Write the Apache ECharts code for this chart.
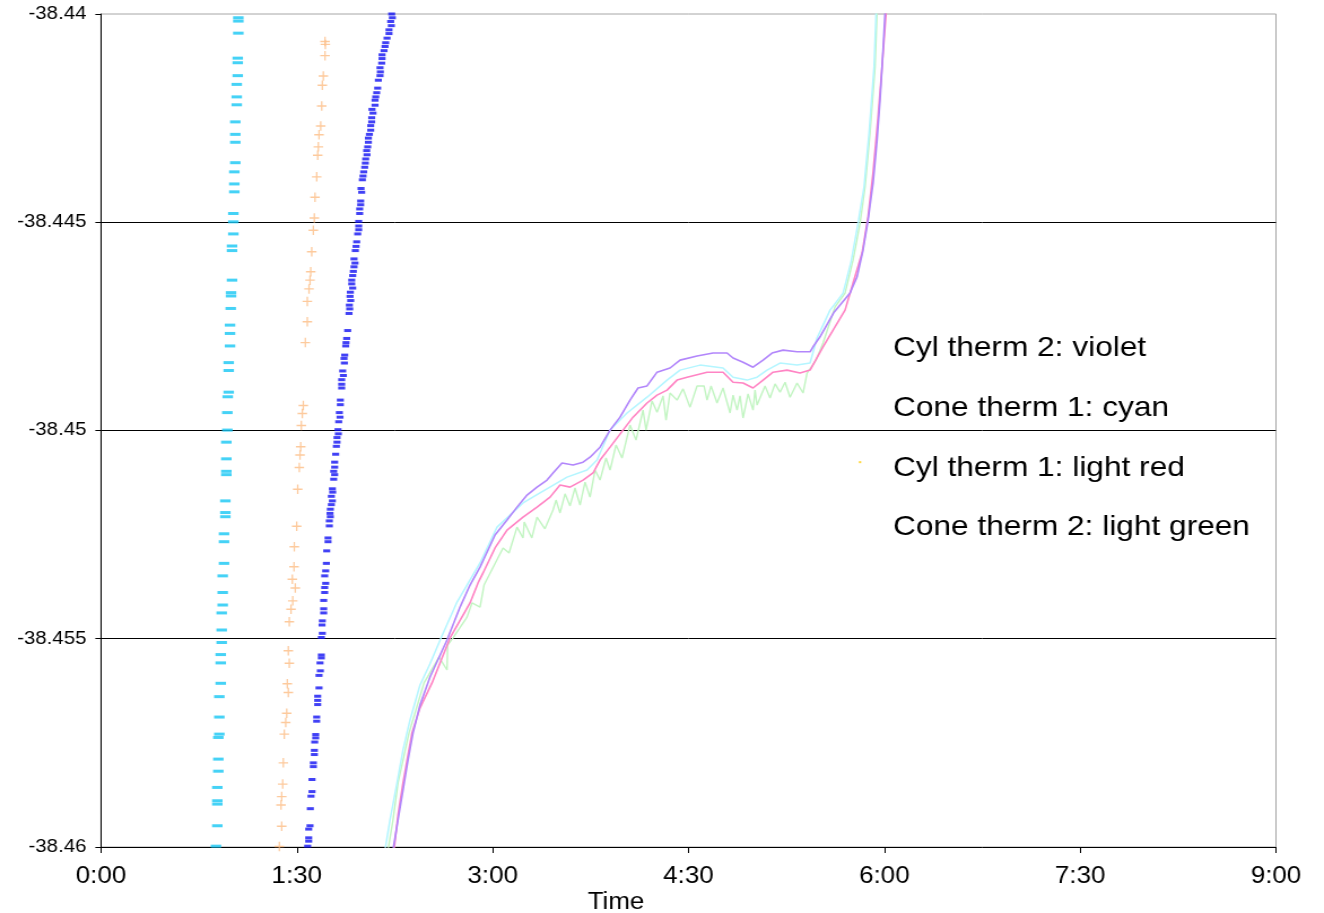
<!DOCTYPE html>
<html>
<head>
<meta charset="utf-8">
<title>Thermistor readings vs time</title>
<script src="https://cdn.jsdelivr.net/npm/echarts@6/dist/echarts.min.js"></script>
<style>
  html, body { margin: 0; padding: 0; background: #fff; overflow: hidden; }
  #chart { height: 913px; transform-origin: 0 0; }
</style>
</head>
<body>
<div id="chart"></div>
<script>
// ---- data (time in minutes, reading in chart units) ----
const timeTicks = ['0:00', '1:30', '3:00', '4:30', '6:00', '7:30', '9:00'];
const valueTicks = ['-38.46', '-38.455', '-38.45', '-38.445', '-38.44'];
const notes = ['Cyl therm 2: violet', 'Cone therm 1: cyan', 'Cyl therm 1: light red', 'Cone therm 2: light green'];

const cyanMarks = [
  [63.10,-38.44009],[63.10,-38.44017],[63.10,-38.44046],[62.83,-38.44106],[62.83,-38.44117],[62.83,-38.44148],
  [62.37,-38.44169],[62.37,-38.44199],[62.37,-38.44218],[61.72,-38.44259],[61.72,-38.44289],[61.72,-38.44308],
  [61.72,-38.44357],[61.27,-38.44379],[61.27,-38.44408],[61.27,-38.44427],[60.81,-38.44479],[60.81,-38.44499],
  [60.81,-38.44528],[60.21,-38.44557],[60.21,-38.44568],[60.21,-38.44639],[59.75,-38.44669],[59.75,-38.44677],
  [59.61,-38.44707],[59.29,-38.44747],[59.29,-38.44767],[59.29,-38.44797],[58.69,-38.44837],[58.69,-38.44856],
  [58.69,-38.44908],[58.23,-38.44919],[58.05,-38.44957],[58.05,-38.44999],[57.59,-38.45028],[57.59,-38.45068],
  [57.59,-38.45098],[57.59,-38.45106],[57.13,-38.45169],[57.13,-38.45197],[57.13,-38.45207],[56.53,-38.45248],
  [56.53,-38.45267],[56.53,-38.45319],[55.93,-38.45349],[55.93,-38.45389],[55.93,-38.45419],[55.47,-38.45438],
  [55.47,-38.45479],[55.47,-38.45509],[55.01,-38.45538],[55.01,-38.45558],[55.01,-38.45607],[54.37,-38.45639],
  [54.37,-38.45688],[54.37,-38.45729],[53.91,-38.45737],[53.91,-38.45789],[53.91,-38.45818],[53.45,-38.45857],
  [53.45,-38.45889],[53.45,-38.45897],[53.45,-38.45949],[52.85,-38.45998]
];

const orangeMarks = [
  [102.95,-38.44066],[103.10,-38.44073],[102.95,-38.44100],[102.17,-38.44149],[101.71,-38.44171],[101.43,-38.44221],
  [100.97,-38.44269],[100.19,-38.44290],[99.87,-38.44319],[99.59,-38.44339],[99.13,-38.44391],[98.35,-38.44440],
  [98.03,-38.44490],[97.57,-38.44519],[96.84,-38.44571],[96.38,-38.44619],[96.06,-38.44639],[95.60,-38.44660],
  [94.82,-38.44690],[94.82,-38.44739],[93.90,-38.44789],[92.98,-38.44940],[92.52,-38.44959],[92.06,-38.44988],
  [91.78,-38.45039],[91.46,-38.45059],[91.14,-38.45089],[90.40,-38.45141],[89.94,-38.45230],[88.84,-38.45279],
  [88.70,-38.45327],[87.92,-38.45357],[89.30,-38.45378],[88.11,-38.45409],[87.32,-38.45429],[86.54,-38.45459],
  [86.08,-38.45529],[86.54,-38.45559],[85.62,-38.45608],[86.08,-38.45629],[85.35,-38.45679],[84.89,-38.45701],
  [84.24,-38.45729],[83.79,-38.45798],[83.51,-38.45849],[83.05,-38.45879],[82.73,-38.45899],[83.05,-38.45950],
  [81.95,-38.45999]
];

const blueMarks = [
  [133.59,-38.44000],[133.90,-38.44009],[133.13,-38.44018],[133.44,-38.44028],[132.36,-38.44038],[132.36,-38.44047],
  [131.45,-38.44058],[130.83,-38.44069],[130.53,-38.44078],[130.07,-38.44088],[129.15,-38.44098],[129.15,-38.44107],
  [128.99,-38.44118],[128.23,-38.44129],[128.38,-38.44139],[128.23,-38.44148],[127.46,-38.44159],[127.16,-38.44178],
  [126.70,-38.44189],[126.24,-38.44199],[125.93,-38.44207],[125.93,-38.44219],[124.55,-38.44229],[125.01,-38.44238],
  [124.40,-38.44249],[124.40,-38.44259],[123.94,-38.44268],[123.94,-38.44279],[123.33,-38.44289],[122.87,-38.44298],
  [122.87,-38.44308],[122.56,-38.44319],[122.10,-38.44328],[122.25,-38.44338],[121.64,-38.44348],[121.49,-38.44358],
  [121.18,-38.44368],[120.72,-38.44379],[120.41,-38.44389],[120.11,-38.44398],[119.50,-38.44419],[119.80,-38.44428],
  [119.34,-38.44449],[119.34,-38.44458],[118.88,-38.44468],[118.88,-38.44479],[118.42,-38.44498],[118.42,-38.44509],
  [118.42,-38.44518],[117.96,-38.44528],[117.50,-38.44547],[117.20,-38.44558],[116.89,-38.44568],[116.28,-38.44588],
  [116.74,-38.44598],[116.28,-38.44607],[115.97,-38.44618],[115.67,-38.44628],[115.21,-38.44639],[115.21,-38.44648],
  [115.67,-38.44658],[114.59,-38.44668],[114.44,-38.44678],[114.75,-38.44688],[114.13,-38.44699],[114.29,-38.44708],
  [113.98,-38.44719],[113.37,-38.44760],[112.91,-38.44779],[112.60,-38.44789],[112.45,-38.44797],[111.99,-38.44819],
  [111.68,-38.44827],[111.84,-38.44838],[111.07,-38.44857],[111.38,-38.44868],[110.61,-38.44878],[110.61,-38.44889],
  [110.61,-38.44898],[110.00,-38.44927],[110.00,-38.44938],[109.54,-38.44957],[109.84,-38.44968],[109.23,-38.44979],
  [108.92,-38.44998],[109.08,-38.45008],[108.47,-38.45017],[108.47,-38.45028],[108.16,-38.45038],[107.85,-38.45057],
  [107.39,-38.45076],[107.39,-38.45088],[106.93,-38.45098],[107.39,-38.45106],[106.93,-38.45117],[106.32,-38.45140],
  [106.47,-38.45148],[105.86,-38.45158],[106.32,-38.45169],[105.86,-38.45178],[105.40,-38.45189],[105.25,-38.45199],
  [105.40,-38.45207],[104.94,-38.45217],[104.94,-38.45229],[104.33,-38.45258],[104.33,-38.45267],[103.72,-38.45289],
  [103.56,-38.45319],[103.26,-38.45337],[102.80,-38.45349],[103.26,-38.45367],[102.80,-38.45377],[102.80,-38.45389],
  [102.34,-38.45408],[102.34,-38.45428],[102.34,-38.45438],[101.72,-38.45457],[101.57,-38.45467],[101.72,-38.45487],
  [101.26,-38.45497],[101.26,-38.45539],[101.26,-38.45546],[100.65,-38.45558],[100.80,-38.45577],[100.19,-38.45588],
  [100.19,-38.45618],[99.58,-38.45638],[99.58,-38.45648],[99.58,-38.45658],[99.12,-38.45688],[99.12,-38.45698],
  [98.66,-38.45730],[98.66,-38.45738],[98.20,-38.45748],[98.05,-38.45768],[98.05,-38.45778],[97.59,-38.45798],
  [97.59,-38.45807],[96.98,-38.45838],[96.98,-38.45867],[96.52,-38.45878],[96.21,-38.45908],[96.06,-38.45949],
  [95.44,-38.45957],[95.44,-38.45978],[95.44,-38.45986],[94.98,-38.45998]
];

const coneTherm2 = [
  [131.91,-38.46007],[134.20,-38.45935],[136.50,-38.45846],[141.56,-38.45726],[148.45,-38.45606],[155.34,-38.45544],
  [159.02,-38.45575],[159.30,-38.45515],[161.78,-38.45498],[168.21,-38.45448],[170.51,-38.45414],[174.19,-38.45424],
  [176.03,-38.45371],[184.76,-38.45282],[187.52,-38.45294],[191.19,-38.45232],[193.95,-38.45258],[194.50,-38.45220],
  [198.00,-38.45258],[200.38,-38.45208],[204.00,-38.45236],[207.74,-38.45191],
  [209.12,-38.45167],[210.96,-38.45198],[213.25,-38.45152],[215.55,-38.45181],[217.85,-38.45138],[220.15,-38.45179],
  [222.45,-38.45124],[224.74,-38.45160],[227.04,-38.45095],[229.34,-38.45119],[232.10,-38.45066],[233.94,-38.45095],
  [236.69,-38.45035],[239.45,-38.45066],[243.13,-38.44987],[245.89,-38.45023],[249.10,-38.44951],[250.48,-38.44999],
  [253.24,-38.44929],[255.54,-38.44956],[258.30,-38.44917],[259.67,-38.44975],[261.51,-38.44910],[264.73,-38.44927],
  [267.49,-38.44900],[270.70,-38.44944],[273.92,-38.44893],[277.14,-38.44893],[278.52,-38.44927],[280.36,-38.44893],
  [283.11,-38.44934],[285.87,-38.44898],[289.09,-38.44958],[290.47,-38.44915],[292.31,-38.44951],[293.68,-38.44917],
  [295.06,-38.44970],[297.36,-38.44912],[299.66,-38.44951],[300.58,-38.44903],[301.50,-38.44939],[305.17,-38.44893],
  [307.47,-38.44922],[309.77,-38.44888],[312.07,-38.44908],[314.37,-38.44884],[316.66,-38.44920],[319.88,-38.44886],
  [322.64,-38.44910],[324.48,-38.44862],
  [328.61,-38.44831],[331.83,-38.44790],[337.35,-38.44703],[341.94,-38.44670],[345.62,-38.44591],[348.84,-38.44502],
  [351.14,-38.44415],[353.43,-38.44286],[355.73,-38.44127],[356.65,-38.43998]
];

const coneTherm1 = [
  [130.53,-38.46007],[132.82,-38.45935],[136.04,-38.45846],[138.80,-38.45767],[142.02,-38.45695],[146.61,-38.45611],
  [151.21,-38.45560],[156.26,-38.45498],[163.62,-38.45412],[174.19,-38.45318],[182.00,-38.45232],[193.95,-38.45174],
  [201.76,-38.45150],[214.17,-38.45112],[223.37,-38.45095],[227.96,-38.45071],[233.94,-38.44999],[241.75,-38.44958],
  [250.94,-38.44920],[260.13,-38.44879],[266.11,-38.44855],[275.30,-38.44843],[285.87,-38.44850],[290.47,-38.44872],
  [296.90,-38.44879],[301.50,-38.44872],[306.09,-38.44855],[312.07,-38.44838],[319.88,-38.44843],[325.86,-38.44838],
  [329.07,-38.44778],[335.05,-38.44711],[341.03,-38.44670],[344.70,-38.44595],[347.92,-38.44502],[350.67,-38.44415],
  [352.97,-38.44286],[355.27,-38.44127],[356.19,-38.43998]
];

const cylTherm1 = [
  [134.66,-38.46007],[136.50,-38.45923],[138.80,-38.45846],[141.10,-38.45779],[142.94,-38.45726],[146.61,-38.45666],
  [152.13,-38.45606],[160.40,-38.45498],[169.59,-38.45414],[173.27,-38.45366],[175.57,-38.45342],[181.08,-38.45282],
  [186.60,-38.45239],[193.95,-38.45208],[200.38,-38.45184],[206.36,-38.45160],[210.96,-38.45131],[215.55,-38.45136],
  [221.53,-38.45119],[226.12,-38.45102],[229.34,-38.45071],[233.94,-38.45040],[239.91,-38.44999],[244.51,-38.44968],
  [250.94,-38.44934],[255.54,-38.44915],[260.13,-38.44903],[264.73,-38.44879],[269.33,-38.44872],[278.52,-38.44860],
  [285.87,-38.44860],[290.47,-38.44884],[295.06,-38.44886],[299.66,-38.44898],[304.26,-38.44879],[308.85,-38.44860],
  [315.29,-38.44855],[321.26,-38.44862],[325.86,-38.44855],[331.83,-38.44799],[336.43,-38.44759],[341.94,-38.44711],
  [345.62,-38.44646],[349.76,-38.44574],[352.51,-38.44487],[354.81,-38.44382],[357.11,-38.44247],[358.95,-38.44127],
  [360.79,-38.43998]
];

const cylTherm2 = [
  [134.20,-38.46007],[138.80,-38.45863],[141.10,-38.45791],[143.40,-38.45726],[146.61,-38.45659],[151.21,-38.45592],
  [159.02,-38.45503],[165.00,-38.45424],[169.59,-38.45371],[174.19,-38.45328],[181.08,-38.45251],[186.60,-38.45215],
  [191.19,-38.45184],[195.79,-38.45155],[200.38,-38.45136],[204.98,-38.45119],[207.74,-38.45102],[211.88,-38.45078],
  [216.93,-38.45083],[221.53,-38.45076],[224.74,-38.45064],[229.34,-38.45040],[233.94,-38.44999],[238.53,-38.44968],
  [243.13,-38.44927],[246.81,-38.44898],[250.94,-38.44893],[255.54,-38.44860],[261.51,-38.44850],[266.11,-38.44831],
  [273.92,-38.44821],[281.28,-38.44814],[287.71,-38.44814],[290.47,-38.44826],[295.06,-38.44836],[299.66,-38.44848],
  [304.26,-38.44831],[308.39,-38.44814],[313.45,-38.44807],[319.88,-38.44811],[325.86,-38.44811],[327.23,-38.44799],
  [330.45,-38.44775],[336.89,-38.44716],[344.24,-38.44670],[347.46,-38.44631],[350.22,-38.44567],[352.51,-38.44495],
  [354.81,-38.44406],[356.65,-38.44303],[358.03,-38.44206],[359.41,-38.44086],[360.33,-38.43998]
];

const strayPoint = [[348.84,-38.45076]];

// ---- layout: the chart is drawn at a narrower width and stretched horizontally ----
const W = 1324, H = 913, innerW = 1172;
const S = W / innerW;
const el = document.getElementById('chart');
el.style.width = innerW + 'px';
el.style.transform = 'scaleX(' + S + ')';

const FONT = '"Liberation Sans", Arial, Helvetica, sans-serif';
const chart = echarts.init(el, null, { renderer: 'canvas' });

const lineSeries = (name, data, color, width) => ({
  name, type: 'line', data, showSymbol: false, symbol: 'none',
  lineStyle: { color, width }, clip: true, z: 3
});

chart.setOption({
  animation: false,
  backgroundColor: '#ffffff',
  grid: {
    left: 101 / S, right: (W - 1276) / S, top: 14, bottom: H - 847,
    show: true, borderColor: '#a6a6a6', borderWidth: 1, backgroundColor: 'transparent'
  },
  xAxis: {
    type: 'value', min: 0, max: 540, interval: 90,
    axisLine: { show: true, lineStyle: { color: '#000', width: 1 } },
    axisTick: { show: true, length: 6, lineStyle: { color: '#000' } },
    splitLine: { show: false },
    axisLabel: {
      color: '#000', fontSize: 23, fontFamily: FONT, margin: 18,
      formatter: v => timeTicks[Math.round(v / 90)] || ''
    }
  },
  yAxis: {
    type: 'value', min: -38.46, max: -38.44, interval: 0.005,
    axisLine: { show: true, onZero: false, lineStyle: { color: '#000', width: 1 } },
    axisTick: { show: true, length: 5, lineStyle: { color: '#000' } },
    splitLine: { show: true, showMinLine: false, showMaxLine: false, lineStyle: { color: '#000', width: 1 } },
    axisLabel: {
      color: '#000', fontSize: 18, fontFamily: FONT, margin: 13,
      formatter: v => valueTicks[Math.round((v + 38.46) / 0.005)] || ''
    }
  },
  graphic: [
    { type: 'text', x: 616 / S, y: 903, style: { text: 'Time', fill: '#000', font: '23px ' + FONT, align: 'center', verticalAlign: 'middle' } },
    ...notes.map((t, i) => ({
      type: 'text', x: 893 / S, y: [348, 408, 468, 527][i],
      style: { text: t, fill: '#000', font: '28px ' + FONT, align: 'left', verticalAlign: 'middle' }
    }))
  ],
  series: [
    { name: 'cyan marks', type: 'scatter', data: cyanMarks, symbol: 'rect', symbolSize: [10.5 / S, 3],
      itemStyle: { color: '#17c7f4' }, z: 2 },
    { name: 'orange marks', type: 'scatter', data: orangeMarks,
      symbol: 'path://M4.25,0H5.75V4.25H10V5.75H5.75V10H4.25V5.75H0V4.25H4.25Z', symbolSize: [9.5 / S, 9.5],
      itemStyle: { color: '#fdbd85' }, z: 2 },
    { name: 'blue marks', type: 'scatter', data: blueMarks, symbol: 'rect', symbolSize: [7 / S, 3],
      itemStyle: { color: '#1212f2' }, z: 2 },
    lineSeries('Cone therm 2', coneTherm2, '#c2f5c2', 1.4),
    lineSeries('Cone therm 1', coneTherm1, '#b4f6ff', 1.5),
    lineSeries('Cyl therm 1', cylTherm1, '#ff84c4', 1.6),
    lineSeries('Cyl therm 2', cylTherm2, '#b286fb', 1.6),
    { name: 'stray', type: 'scatter', data: strayPoint, symbol: 'rect', symbolSize: 2,
      itemStyle: { color: '#ffcc00' }, z: 2 }
  ]
});
</script>
</body>
</html>
